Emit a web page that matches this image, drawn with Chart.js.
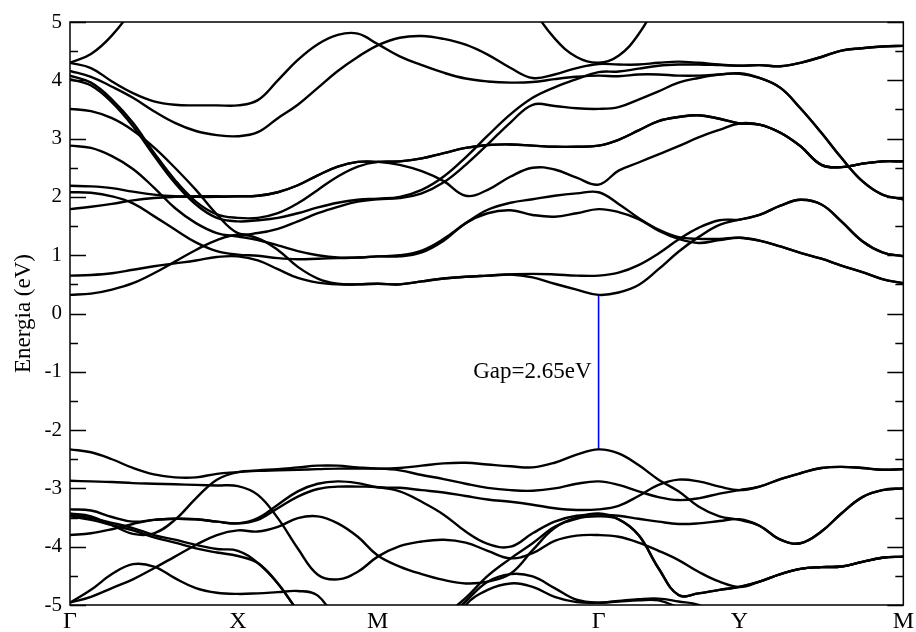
<!DOCTYPE html>
<html>
<head>
<meta charset="utf-8">
<title>Estrutura de bandas</title>
<script src="https://cdn.jsdelivr.net/npm/chart.js@4/dist/chart.umd.min.js"></script>
<style>
  html, body { margin: 0; padding: 0; background: #fff; }
  #wrap { width: 916px; height: 632px; position: relative; }
</style>
</head>
<body>
<div id="wrap"><canvas id="bands"></canvas></div>
<script>
// k-path sampling (path length units), segments G-X | X-M | M-G | G-Y | Y-M
const kPath = [0, 21, 42, 63, 84, 105, 126, 147, 168,
  188, 208, 228, 248, 268, 288, 308,
  330, 352, 374, 396, 418, 441, 463, 485, 507, 529,
  549, 569, 589, 609, 629, 650, 670,
  690, 711, 731, 752, 772, 793, 813, 834];

const symK = [0, 168, 308, 529, 670, 834];
const symLabels = ["Γ", "X", "M", "Γ", "Y", "M"];
const eTicks = [-5, -4, -3, -2, -1, 0, 1, 2, 3, 4, 5];

// conduction bands (eV)
const cbA = [4.30, 4.45, 4.77, 5.25, 6.0, 7, 8, 8, 8,  8, 8, 8, 8, 8, 8, 8,  8, 8, 8, 8, 6.95, 5.97, 5.24, 4.72, 4.40, 4.30,  4.42, 4.79, 5.39, 6.25, 7.3, 8, 8,  8, 8, 8, 8, 8, 8, 8, 8];
const cbB = [4.30, 4.21, 3.98, 3.78, 3.64, 3.58, 3.57, 3.57, 3.57,  3.66, 4.00, 4.35, 4.62, 4.78, 4.80, 4.62,  4.41, 4.26, 4.13, 4.03, 3.98, 3.96, 3.97, 4.02, 4.06, 4.08,  4.07, 4.10, 4.10, 4.08, 4.08, 4.10, 4.12,  4.04, 3.87, 3.52, 3.10, 2.67, 2.27, 2.04, 1.96];
const cbC = [4.16, 4.06, 3.89, 3.70, 3.47, 3.27, 3.13, 3.06, 3.04,  3.11, 3.35, 3.58, 3.87, 4.16, 4.40, 4.60,  4.73, 4.76, 4.71, 4.61, 4.44, 4.21, 4.04, 4.10, 4.21, 4.28,  4.27, 4.27, 4.30, 4.32, 4.30, 4.27, 4.25,  4.26, 4.24, 4.30, 4.40, 4.51, 4.55, 4.58, 4.59];
const cbD = [4.08, 3.96, 3.67, 3.27, 2.76, 2.29, 1.92, 1.70, 1.64,  1.64, 1.72, 1.89, 2.12, 2.35, 2.52, 2.60,  2.61, 2.66, 2.75, 2.84, 2.89, 2.90, 2.88, 2.86, 2.86, 2.88,  2.98, 3.14, 3.30, 3.37, 3.40, 3.34, 3.26,  3.24, 3.10, 2.87, 2.55, 2.51, 2.57, 2.61, 2.61];
const cbE = [4.02, 3.91, 3.62, 3.21, 2.71, 2.24, 1.87, 1.64, 1.58,  1.60, 1.64, 1.72, 1.82, 1.90, 1.95, 1.97,  2.00, 2.12, 2.35, 2.68, 3.05, 3.42, 3.70, 3.88, 4.02, 4.14,  4.15, 4.20, 4.25, 4.27, 4.27, 4.26, 4.25,  4.26, 4.24, 4.30, 4.40, 4.51, 4.55, 4.58, 4.59];
const cbF = [3.51, 3.47, 3.35, 3.14, 2.85, 2.50, 2.12, 1.70, 1.38,  1.38, 1.45, 1.58, 1.72, 1.83, 1.92, 1.96,  1.98, 2.06, 2.25, 2.55, 2.90, 3.28, 3.58, 3.56, 3.52, 3.51,  3.54, 3.67, 3.81, 3.96, 4.04, 4.10, 4.11,  4.04, 3.87, 3.52, 3.10, 2.67, 2.27, 2.04, 1.96];
const cbG = [2.88, 2.84, 2.70, 2.48, 2.16, 1.81, 1.55, 1.38, 1.32,  1.26, 1.17, 1.07, 1.00, 0.96, 0.96, 0.98,  0.98, 1.05, 1.25, 1.55, 1.72, 1.77, 1.69, 1.66, 1.72, 1.79,  1.74, 1.62, 1.42, 1.28, 1.21, 1.26, 1.30,  1.25, 1.15, 1.04, 0.94, 0.82, 0.71, 0.59, 0.52];
const cbH = [2.19, 2.18, 2.15, 2.09, 2.04, 2.01, 2.00, 2.00, 2.01,  2.02, 2.08, 2.20, 2.37, 2.52, 2.60, 2.60,  2.61, 2.66, 2.75, 2.84, 2.89, 2.90, 2.88, 2.86, 2.86, 2.88,  2.98, 3.14, 3.30, 3.37, 3.40, 3.34, 3.26,  3.24, 3.10, 2.87, 2.55, 2.51, 2.57, 2.61, 2.61];
const cbI = [1.79, 1.83, 1.88, 1.94, 1.98, 2.00, 2.01, 2.01, 2.01,  2.02, 2.08, 2.20, 2.37, 2.52, 2.60, 2.60,  2.55, 2.44, 2.27, 2.02, 2.12, 2.35, 2.50, 2.47, 2.33, 2.21,  2.45, 2.59, 2.73, 2.87, 3.02, 3.15, 3.26,  3.24, 3.10, 2.87, 2.55, 2.51, 2.57, 2.61, 2.61];
const cbJ = [2.08, 2.07, 2.01, 1.89, 1.67, 1.44, 1.22, 1.07, 1.01,  0.99, 0.95, 0.93, 0.94, 0.95, 0.96, 0.98,  1.00, 1.08, 1.28, 1.55, 1.78, 1.90, 1.96, 2.02, 2.06, 2.08,  1.88, 1.64, 1.44, 1.31, 1.28, 1.28, 1.30,  1.25, 1.15, 1.04, 0.94, 0.82, 0.71, 0.59, 0.52];
const cbK = [0.65, 0.66, 0.69, 0.75, 0.81, 0.86, 0.91, 0.97, 0.98,  0.91, 0.76, 0.61, 0.53, 0.50, 0.50, 0.51,  0.50, 0.55, 0.60, 0.63, 0.65, 0.67, 0.68, 0.67, 0.65, 0.65,  0.70, 0.83, 1.03, 1.27, 1.47, 1.60, 1.61,  1.69, 1.85, 1.95, 1.87, 1.58, 1.24, 1.05, 0.98];
const cbL = [0.32, 0.34, 0.41, 0.52, 0.69, 0.89, 1.09, 1.26, 1.35,  1.29, 1.09, 0.80, 0.60, 0.51, 0.50, 0.51,  0.50, 0.55, 0.60, 0.63, 0.65, 0.67, 0.62, 0.51, 0.41, 0.32,  0.36, 0.49, 0.76, 1.06, 1.31, 1.52, 1.61,  1.69, 1.85, 1.95, 1.87, 1.58, 1.24, 1.05, 0.98];

// valence bands (eV)
const vb1 = [-2.33, -2.38, -2.50, -2.65, -2.76, -2.81, -2.81, -2.75, -2.72,  -2.69, -2.67, -2.64, -2.61, -2.61, -2.64, -2.66,  -2.65, -2.61, -2.57, -2.56, -2.59, -2.62, -2.64, -2.56, -2.42, -2.33,  -2.40, -2.60, -2.85, -3.05, -3.31, -3.48, -3.54,  -3.64, -3.88, -3.94, -3.74, -3.43, -3.15, -3.03, -3.00];
const vb2 = [-2.87, -2.88, -2.89, -2.91, -2.92, -2.93, -2.94, -2.95, -2.96,  -3.11, -3.51, -4.03, -4.48, -4.56, -4.43, -4.17,  -3.99, -3.91, -3.88, -3.93, -4.07, -4.20, -4.11, -3.90, -3.81, -3.80,  -3.83, -3.93, -4.07, -4.23, -4.43, -4.60, -4.69,  -4.60, -4.47, -4.38, -4.35, -4.34, -4.26, -4.19, -4.17];
const vb3 = [-3.43, -3.48, -3.63, -3.78, -3.77, -3.54, -3.17, -2.85, -2.72,  -2.70, -2.69, -2.68, -2.67, -2.66, -2.66, -2.66,  -2.69, -2.77, -2.84, -2.92, -2.99, -3.03, -3.04, -3.00, -2.92, -2.88,  -2.94, -3.05, -3.15, -3.20, -3.17, -3.09, -3.03,  -2.97, -2.84, -2.74, -2.65, -2.63, -2.65, -2.68, -2.67];
const vb4 = [-3.36, -3.38, -3.49, -3.57, -3.54, -3.52, -3.53, -3.57, -3.60,  -3.51, -3.28, -3.05, -2.92, -2.88, -2.91, -2.98,  -2.99, -3.03, -3.07, -3.13, -3.19, -3.23, -3.28, -3.34, -3.37, -3.36,  -3.30, -3.13, -2.94, -2.85, -2.88, -2.97, -3.03,  -2.97, -2.84, -2.74, -2.65, -2.63, -2.65, -2.68, -2.67];
const vb5 = [-3.45, -3.51, -3.59, -3.68, -3.80, -3.88, -3.97, -4.04, -4.07,  -4.28, -4.63, -5.10, -5.5, -5.8, -6.0, -6.1,  -6.1, -5.6, -5.2, -4.88, -4.50, -4.20, -3.94, -3.66, -3.50, -3.43,  -3.53, -3.80, -4.37, -4.83, -4.80, -4.74, -4.69,  -4.60, -4.47, -4.38, -4.35, -4.34, -4.26, -4.19, -4.17];
const vb6 = [-3.48, -3.54, -3.63, -3.72, -3.84, -3.93, -4.03, -4.10, -4.16,  -4.28, -4.63, -5.10, -5.5, -5.8, -6.0, -6.1,  -6.1, -5.7, -5.3, -4.94, -4.60, -4.47, -4.51, -4.71, -4.91, -4.96,  -4.93, -4.90, -4.89, -4.94, -5.0, -5.2, -5.4,  -5.6, -5.8, -6, -6, -6, -6, -6, -6];
const vb7 = [-3.80, -3.77, -3.70, -3.61, -3.54, -3.52, -3.53, -3.57, -3.60,  -3.54, -3.34, -3.14, -3.01, -2.97, -2.97, -2.98,  -3.05, -3.23, -3.45, -3.74, -3.95, -4.00, -3.77, -3.57, -3.47, -3.45,  -3.47, -3.52, -3.57, -3.61, -3.60, -3.56, -3.53,  -3.64, -3.88, -3.94, -3.74, -3.43, -3.15, -3.03, -3.00];
const vb8 = [-4.96, -4.86, -4.71, -4.56, -4.37, -4.17, -3.97, -3.80, -3.72,  -3.74, -3.66, -3.51, -3.48, -3.60, -3.83, -4.15,  -4.34, -4.47, -4.57, -4.63, -4.60, -4.46, -4.06, -3.68, -3.52, -3.48,  -3.53, -3.80, -4.37, -4.83, -4.80, -4.74, -4.69,  -4.60, -4.47, -4.38, -4.35, -4.34, -4.26, -4.19, -4.17];
const vb9 = [-4.96, -4.74, -4.47, -4.30, -4.34, -4.54, -4.71, -4.79, -4.81,  -4.80, -4.78, -4.76, -4.84, -5.3, -5.7, -5.9,  -6, -6, -5.6, -5.0, -4.74, -4.63, -4.69, -4.86, -4.95, -4.96,  -4.94, -4.92, -4.92, -5.05, -5.3, -5.5, -5.6,  -5.8, -6, -6, -6, -6, -6, -6, -6];

// direct gap at the second Gamma point
const gapK = 529;
const gapCBM = 0.32;
const gapValue = 2.65;

const bands = [cbA, cbB, cbC, cbD, cbE, cbF, cbG, cbH, cbI, cbJ, cbK, cbL,
  vb1, vb2, vb3, vb4, vb5, vb6, vb7, vb8, vb9];

const SERIF = "'Liberation Serif', 'DejaVu Serif', serif";

const bandSet = (band) => ({
  data: kPath.map((k, i) => ({ x: k, y: band[i] })),
  borderColor: "#000",
  borderWidth: 2.4,
  pointRadius: 0,
  tension: 0.4,
  fill: false
});

const gapSet = {
  data: [{ x: gapK, y: gapCBM - gapValue }, { x: gapK, y: gapCBM }],
  borderColor: "#0000ff",
  borderWidth: 1.6,
  pointRadius: 0,
  tension: 0
};

// frame, inward ticks, axis title and gap label
const decor = {
  id: "decor",
  afterDraw(chart) {
    const { ctx, chartArea: a, scales: { x, y } } = chart;
    ctx.save();
    ctx.strokeStyle = "#000";
    ctx.lineWidth = 1.5;
    ctx.strokeRect(a.left, a.top, a.right - a.left, a.bottom - a.top);

    ctx.beginPath();
    eTicks.forEach((v, i) => {
      const marks = [[v, 16]];
      if (i < eTicks.length - 1) marks.push([(v + eTicks[i + 1]) / 2, 8]);
      marks.forEach(([val, len]) => {
        const py = Math.round(y.getPixelForValue(val)) + 0.5;
        ctx.moveTo(a.left, py); ctx.lineTo(a.left + len, py);
        ctx.moveTo(a.right, py); ctx.lineTo(a.right - len, py);
      });
    });
    ctx.stroke();

    ctx.fillStyle = "#000";
    ctx.font = `23px ${SERIF}`;
    ctx.textAlign = "right";
    ctx.textBaseline = "middle";
    const gx = x.getPixelForValue(gapK);
    const gy = y.getPixelForValue(gapCBM - gapValue / 2);
    ctx.fillText(`Gap=${gapValue.toFixed(2)}eV`, gx - 7, gy);

    ctx.translate(24, (a.top + a.bottom) / 2);
    ctx.rotate(-Math.PI / 2);
    ctx.textAlign = "center";
    ctx.font = `23px ${SERIF}`;
    ctx.fillText("Energia (eV)", 0, 0);
    ctx.restore();
  }
};

new Chart(document.getElementById("bands"), {
  type: "line",
  data: { datasets: [...bands.map(bandSet), gapSet] },
  options: {
    responsive: true,
    maintainAspectRatio: false,
    animation: false,
    devicePixelRatio: 1,
    events: [],
    layout: { padding: { top: 22, right: 12, left: 0, bottom: 0 } },
    elements: { line: { capBezierPoints: false } },
    plugins: { legend: { display: false }, tooltip: { enabled: false } },
    scales: {
      x: {
        type: "linear",
        min: 0,
        max: symK[symK.length - 1],
        afterBuildTicks: (s) => { s.ticks = symK.map((v) => ({ value: v })); },
        afterFit: (s) => { s.height = 27; },
        grid: { display: false, drawTicks: false },
        border: { display: false },
        ticks: {
          padding: 2,
          color: "#000",
          font: { family: SERIF, size: 24 },
          autoSkip: false,
          maxRotation: 0,
          callback: (v, i) => symLabels[i]
        }
      },
      y: {
        min: -5,
        max: 5,
        afterBuildTicks: (s) => { s.ticks = eTicks.map((v) => ({ value: v })); },
        afterFit: (s) => { s.width = 70; },
        grid: { display: false, drawTicks: false },
        border: { display: false },
        ticks: {
          padding: 8,
          color: "#000",
          font: { family: SERIF, size: 21 },
          callback: (v) => String(v)
        }
      }
    }
  },
  plugins: [decor]
});
</script>
</body>
</html>
